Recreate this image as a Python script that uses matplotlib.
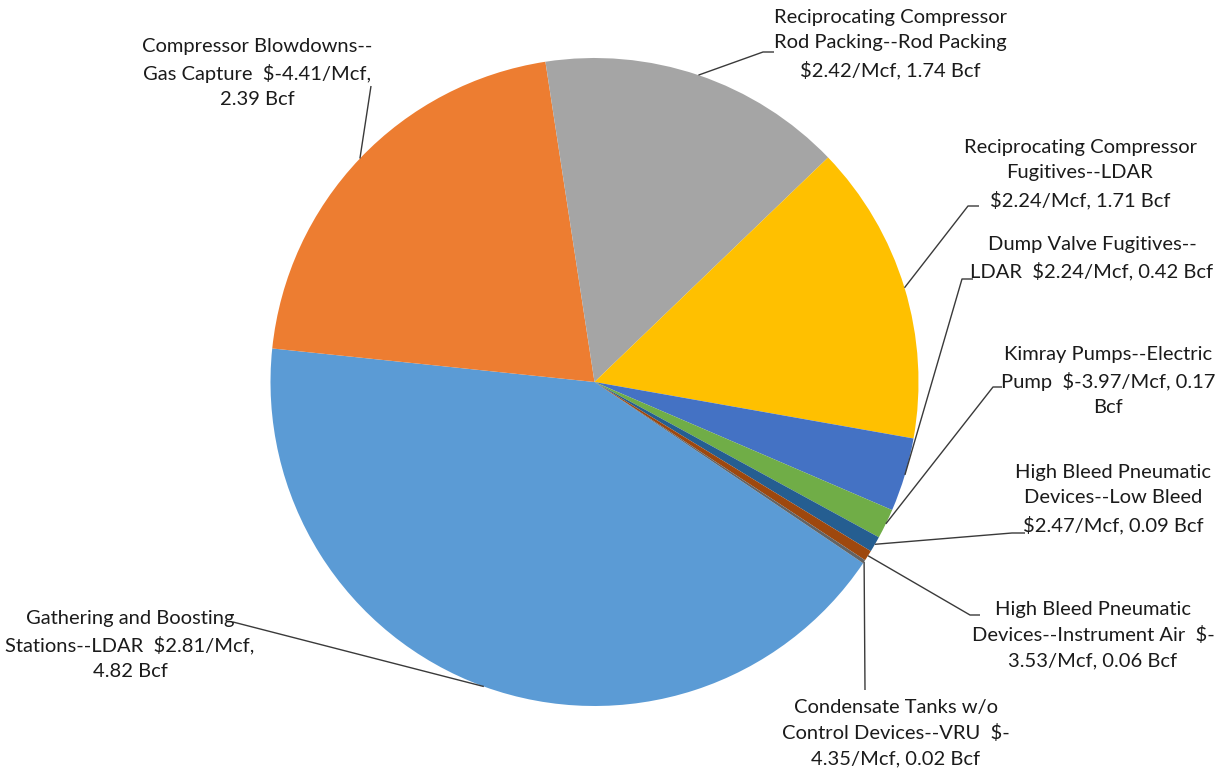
import matplotlib
matplotlib.use("Agg")
import matplotlib.pyplot as plt
import numpy as np

# Emission sources, mitigation cost and volume
bcf = [4.82, 2.39, 1.74, 1.71, 0.42, 0.17, 0.09, 0.06, 0.02]
cost_per_mcf = [2.81, -4.41, 2.42, 2.24, 2.24, -3.97, 2.47, -3.53, -4.35]
label_templates = [
    "Gathering and Boosting\nStations--LDAR  {cost},\n{bcf}",
    "Compressor Blowdowns--\nGas Capture  {cost},\n{bcf}",
    "Reciprocating Compressor\nRod Packing--Rod Packing\n{cost}, {bcf}",
    "Reciprocating Compressor\nFugitives--LDAR\n{cost}, {bcf}",
    "Dump Valve Fugitives--\nLDAR  {cost}, {bcf}",
    "Kimray Pumps--Electric\nPump  {cost}, {bcf_num}\nBcf",
    "High Bleed Pneumatic\nDevices--Low Bleed\n{cost}, {bcf}",
    "High Bleed Pneumatic\nDevices--Instrument Air  {cost_head}\n{cost_tail}, {bcf}",
    "Condensate Tanks w/o\nControl Devices--VRU  {cost_head}\n{cost_tail}, {bcf}",
]
colors = ["#5B9BD5", "#ED7D31", "#A5A5A5", "#FFC000", "#4472C4",
          "#70AD47", "#255E91", "#9E480E", "#636363"]

W, H = 1225, 773
CX, CY, R = 594.5, 382, 324  # pie centre / radius in pixels (y from top)

# label block centres and leader-line anchor points (pixels, y from top)
label_pos = [(130, 645), (257, 73), (890, 44), (1080, 174), (1092, 258.5),
             (1108, 381), (1113, 499), (1093, 635), (896, 733)]
leader_pts = [
    [(233, 622)],
    [(371, 86)],
    [(774, 52), (763, 52)],
    [(979, 206), (968, 206)],
    [(973, 279), (962, 279)],
    [(1002, 387), (993, 387)],
    [(1025, 533), (1012, 533)],
    [(980, 615), (970, 615)],
    [(865, 690)],
]


def label_text(tpl, cost, vol):
    c = f"${cost:.2f}/Mcf"
    return tpl.format(cost=c, cost_head=c[:2], cost_tail=c[2:],
                      bcf=f"{vol:.2f} Bcf", bcf_num=f"{vol:.2f}")


fig = plt.figure(figsize=(W / 100, H / 100), dpi=100)
ax = fig.add_axes([0, 0, 1, 1])

wedges, _ = ax.pie(bcf, colors=colors, startangle=-34, counterclock=False,
                   center=(CX, H - CY), radius=R,
                   wedgeprops=dict(linewidth=0, antialiased=True))
ax.set_xlim(0, W)
ax.set_ylim(0, H)
ax.set_aspect("equal")
ax.axis("off")

font = dict(family="Lato", size=14.5, color="#1b1b1b")

for w, tpl, c, v, (lx, ly), pts in zip(wedges, label_templates, cost_per_mcf,
                                       bcf, label_pos, leader_pts):
    mid = np.deg2rad((w.theta1 + w.theta2) / 2)
    ex = CX + R * np.cos(mid)
    ey = (H - CY) + R * np.sin(mid)
    xs = [p[0] for p in pts] + [ex]
    ys = [H - p[1] for p in pts] + [ey]
    ax.plot(xs, ys, color="#3a3a3a", lw=1.0, solid_capstyle="butt", zorder=3)
    ax.text(lx, H - ly, label_text(tpl, c, v), ha="center", va="center",
            multialignment="center", linespacing=1.58, zorder=4, **font)

fig.savefig("out.png", dpi=100, facecolor="white")
